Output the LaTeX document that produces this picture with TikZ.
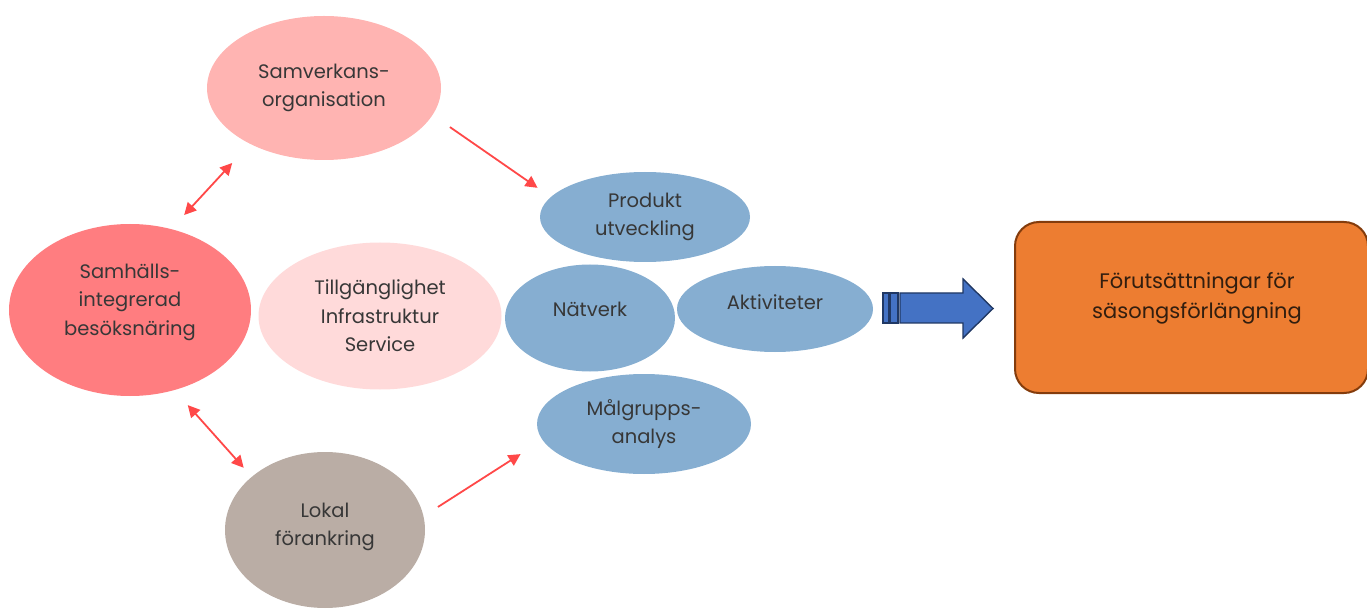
\documentclass[tikz,border=0pt]{standalone}
\usepackage{fontspec}
\setmainfont{Poppins}
\usetikzlibrary{shapes.geometric,arrows.meta}

\definecolor{txtgray}{RGB}{55,55,55}
\definecolor{pinkmid}{RGB}{255,180,178}
\definecolor{pinkdeep}{RGB}{255,125,128}
\definecolor{pinkpale}{RGB}{255,218,218}
\definecolor{taupe}{RGB}{186,173,165}
\definecolor{skyblue}{RGB}{134,174,209}
\definecolor{linkred}{RGB}{255,72,72}
\definecolor{goalfill}{RGB}{237,125,49}
\definecolor{goaldraw}{RGB}{132,60,12}
\definecolor{goaltext}{RGB}{50,30,15}
\definecolor{bluefill}{RGB}{68,114,196}
\definecolor{bluedraw}{RGB}{32,56,100}

\tikzset{
  blobtext/.style={align=center, text=txtgray, font=\fontsize{19.5}{28.5}\selectfont},
  blob/.style={ellipse, draw=none, inner sep=0pt, blobtext},
  link/.style={draw=linkred, line width=1.8pt,
    -{Triangle[length=12pt,width=12pt]}},
  duallink/.style={draw=linkred, line width=1.8pt,
    {Triangle[length=12pt,width=12pt]}-{Triangle[length=12pt,width=12pt]}},
  goalbox/.style={draw=goaldraw, line width=2pt, fill=goalfill,
    rounded corners=24pt},
  goaltextstyle/.style={align=center, text=goaltext,
    font=\fontsize{21}{30}\selectfont},
  bigarrow/.style={draw=bluedraw, line width=1.4pt, fill=bluefill, line join=miter}
}

\begin{document}
\begin{tikzpicture}[x=1pt,y=-1pt]
\useasboundingbox (0,0) rectangle (1367,609);
\clip (0,0) rectangle (1367,609);

% pink / taupe cluster
\node[blob, fill=pinkmid, minimum width=234pt, minimum height=144pt] (samv) at (324,88)
  {Samverkans-\\organisation};
\node[blob, fill=pinkdeep, minimum width=242pt, minimum height=172pt] (samh) at (130,310)
  {};
\node[blobtext, yshift=8pt] (samhtext) at (samh.center)
  {Samhälls-\\integrerad\\besöksnäring};
\node[blob, fill=pinkpale, minimum width=243pt, minimum height=147pt] (tillg) at (380,316)
  {Tillgänglighet\\Infrastruktur\\Service};
\node[blob, fill=taupe, minimum width=200pt, minimum height=156pt] (lokal) at (325,530)
  {};
\node[blobtext, yshift=3pt] (lokaltext) at (lokal.center) {Lokal\\förankring};

% blue cluster
\node[blob, fill=skyblue, minimum width=210pt, minimum height=90pt] (prod) at (645,217)
  {Produkt\\utveckling};
\node[blob, fill=skyblue, minimum width=170pt, minimum height=107pt] (natv) at (590,318)
  {};
\node[blobtext, yshift=9pt] (natvtext) at (natv.center) {Nätverk};
\node[blob, fill=skyblue, minimum width=196pt, minimum height=86pt] (akt) at (775,309)
  {};
\node[blobtext, yshift=7pt] (akttext) at (akt.center) {Aktiviteter};
\node[blob, fill=skyblue, minimum width=214pt, minimum height=100pt] (malg) at (644,424)
  {Målgrupps-\\analys};

% goal box
\node[goalbox, minimum width=353pt, minimum height=171pt] (goal) at (1191.5,307.5) {};
\node[goaltextstyle] (goaltext) at (1197,298)
  {Förutsättningar för\\säsongsförlängning};

% red connectors
\draw[duallink, shorten <=26pt, shorten >=19pt] (samv.217) -- (samh.63.8);
\draw[link, shorten <=21pt, shorten >=16pt] (samv.346) -- (prod.168);
\draw[duallink, shorten <=20pt, shorten >=12pt] (samh.299.3) -- (lokal.144.5);
\draw[link, shorten <=17pt, shorten >=26pt] (lokal.8.6) -- (malg.189.7);

% broad blue arrow from the activities toward the goal
\draw[bigarrow] (883,293) rectangle (889,323);
\draw[bigarrow] (890,293) rectangle (898,323);
\draw[bigarrow] (900,293) -- (963,293) -- (963,279) -- (993,308.5) -- (963,338)
  -- (963,323) -- (900,323) -- cycle;
\end{tikzpicture}
\end{document}
